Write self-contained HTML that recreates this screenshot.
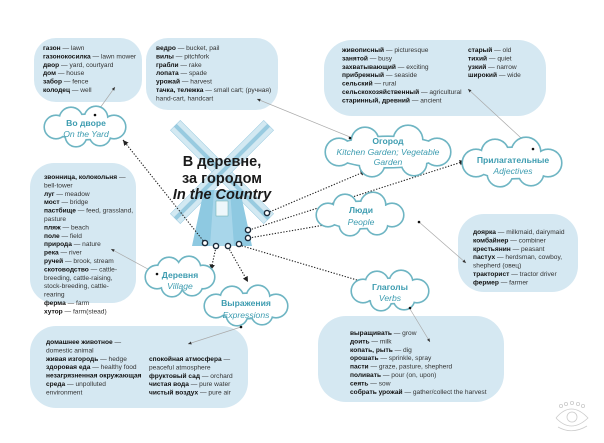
<!DOCTYPE html>
<html><head><meta charset="utf-8"><style>
html,body{margin:0;padding:0;background:#fff;}
svg{display:block;}
.t{font-family:"Liberation Sans",sans-serif;font-size:6.6px;fill:#333;}
.t tspan.b{font-weight:bold;fill:#111;}
.o{stroke:#6eb5c3;stroke-width:3.2;fill:#fff;}
.f{fill:#fff;stroke:none;}
.ct{font-family:"Liberation Sans",sans-serif;font-size:8.6px;fill:#3d9cb0;text-anchor:middle;}
.ci{font-style:italic;}
.dot{stroke:#222;stroke-width:1.1;stroke-dasharray:1.3 1.6;fill:none;}
.gl{stroke:#aaa;stroke-width:0.7;fill:none;}
.ring{fill:#fff;stroke:#1b2a3a;stroke-width:1.4;}
</style></head><body>
<svg width="604" height="443" viewBox="0 0 604 443" xmlns="http://www.w3.org/2000/svg">
<defs>
<marker id="ah" markerWidth="6" markerHeight="6" refX="5" refY="3" orient="auto"><path d="M0,0.5 L5,3 L0,5.5z" fill="#222"/></marker>
<marker id="ag" markerWidth="6" markerHeight="6" refX="5" refY="3" orient="auto"><path d="M0,0.8 L5,3 L0,5.2z" fill="#333"/></marker>
<g id="c1"><ellipse cx="85" cy="127" rx="32" ry="12"/><circle cx="71" cy="119" r="11"/><circle cx="96" cy="118" r="11"/><circle cx="76" cy="136" r="10"/><circle cx="100" cy="135" r="10"/><circle cx="56" cy="127" r="11"/><circle cx="114" cy="127" r="11"/></g>
<g id="c2"><ellipse cx="388" cy="152" rx="55" ry="15"/><circle cx="365" cy="141" r="13"/><circle cx="408" cy="140" r="14"/><circle cx="372" cy="164" r="12"/><circle cx="414" cy="163" r="12"/><circle cx="339" cy="152" r="13"/><circle cx="437" cy="152" r="13"/></g>
<g id="c3"><ellipse cx="512" cy="163" rx="40" ry="15"/><circle cx="495" cy="153" r="13"/><circle cx="526" cy="152" r="14"/><circle cx="500" cy="174" r="12"/><circle cx="531" cy="173" r="12"/><circle cx="476" cy="163" r="13"/><circle cx="548" cy="163" r="13"/></g>
<g id="c4"><ellipse cx="360" cy="215" rx="35" ry="13"/><circle cx="345" cy="206" r="11"/><circle cx="373" cy="205" r="12"/><circle cx="350" cy="225" r="10"/><circle cx="377" cy="224" r="10"/><circle cx="328" cy="215" r="11"/><circle cx="392" cy="215" r="11"/></g>
<g id="c5"><ellipse cx="390" cy="291" rx="30" ry="12"/><circle cx="377" cy="283" r="11"/><circle cx="401" cy="282" r="11"/><circle cx="381" cy="300" r="10"/><circle cx="404" cy="299" r="10"/><circle cx="363" cy="291" r="11"/><circle cx="417" cy="291" r="11"/></g>
<g id="c6"><ellipse cx="180" cy="277" rx="26" ry="12"/><circle cx="169" cy="269" r="11"/><circle cx="189" cy="268" r="11"/><circle cx="172" cy="286" r="10"/><circle cx="192" cy="285" r="10"/><circle cx="157" cy="277" r="11"/><circle cx="203" cy="277" r="11"/></g>
<g id="c7"><ellipse cx="246" cy="306" rx="33" ry="12"/><circle cx="232" cy="298" r="11"/><circle cx="258" cy="297" r="11"/><circle cx="237" cy="315" r="10"/><circle cx="262" cy="314" r="10"/><circle cx="216" cy="306" r="11"/><circle cx="276" cy="306" r="11"/></g>
</defs>

<!-- blobs -->
<g fill="#d5e8f2">
<rect x="34" y="38" width="108" height="64" rx="22"/>
<rect x="146" y="38" width="132" height="72" rx="22"/>
<rect x="324" y="40" width="222" height="76" rx="28"/>
<rect x="30" y="163" width="106" height="140" rx="24"/>
<rect x="458" y="214" width="120" height="78" rx="26"/>
<rect x="30" y="326" width="218" height="82" rx="26"/>
<rect x="318" y="316" width="186" height="86" rx="28"/>
</g>

<!-- windmill -->
<g transform="translate(222,172)">
<g transform="rotate(45)" stroke="#9ccbe0" stroke-width="0.5">
<rect x="-66" y="-7" width="132" height="14" fill="#d3e9f2"/>
<rect x="-66" y="-1.8" width="132" height="3.6" fill="#98cbe0"/>
<rect x="-7" y="-66" width="14" height="132" fill="#d3e9f2"/>
<rect x="-1.8" y="-66" width="3.6" height="132" fill="#98cbe0"/>
</g>
</g>
<path d="M204,190 L240,190 L252,246 L192,246 Z" fill="#8ec9e1"/>
<path d="M214,190 L230,190 L234,246 L210,246 Z" fill="#a8d6ea"/>
<rect x="216" y="201" width="12" height="15" fill="#eef7fb" stroke="#6aa" stroke-width="0.5"/>
<g font-family="Liberation Sans,sans-serif" font-size="14.5" font-weight="bold" fill="#1a1a1a" text-anchor="middle">
<text x="222" y="166">В деревне,</text><text x="222" y="183">за городом</text>
<text x="222" y="199" font-style="italic">In the Country</text></g>

<!-- dotted connectors -->
<path class="dot" marker-end="url(#ah)" d="M205,243 L123,140"/>
<path class="dot" marker-end="url(#ah)" d="M216,247 L211,270"/>
<path class="dot" marker-end="url(#ah)" d="M228,247 L248,282"/>
<path class="dot" marker-end="url(#ah)" d="M239,245 L367,283"/>
<path class="dot" marker-end="url(#ah)" d="M249,238 L342,222"/>
<path class="dot" marker-end="url(#ah)" d="M249,230 L465,161"/>
<path class="dot" marker-end="url(#ah)" d="M267,213 L366,171"/>

<!-- grey lines -->
<path class="gl" marker-end="url(#ag)" d="M95,115 L115,87"/>
<path class="gl" marker-end="url(#ag)" d="M350,137 L257,99"/>
<path class="gl" marker-end="url(#ag)" d="M533,149 L468,89"/>
<path class="gl" marker-end="url(#ag)" d="M419,222 L466,263"/>
<path class="gl" marker-end="url(#ag)" d="M410,309 L430,342"/>
<path class="gl" marker-end="url(#ag)" d="M241,327 L188,344"/>
<path class="gl" marker-end="url(#ag)" d="M157,274 L111,249"/>

<!-- clouds -->
<use href="#c1" class="o"/><use href="#c1" class="f"/>
<use href="#c2" class="o"/><use href="#c2" class="f"/>
<use href="#c3" class="o"/><use href="#c3" class="f"/>
<use href="#c4" class="o"/><use href="#c4" class="f"/>
<use href="#c5" class="o"/><use href="#c5" class="f"/>
<use href="#c6" class="o"/><use href="#c6" class="f"/>
<use href="#c7" class="o"/><use href="#c7" class="f"/>

<g fill="#111">
<circle cx="95" cy="115" r="1.3"/><circle cx="350" cy="138" r="1.3"/><circle cx="533" cy="149" r="1.3"/><circle cx="419" cy="222" r="1.3"/><circle cx="410" cy="308" r="1.3"/><circle cx="241" cy="327" r="1.3"/><circle cx="157" cy="274" r="1.3"/>
</g>

<text class="ct" x="86" y="126" font-weight="bold">Во дворе</text><text class="ct ci" x="86" y="137">On the Yard</text>
<text class="ct" x="388" y="144" font-weight="bold">Огород</text><text class="ct ci" x="388" y="155">Kitchen Garden; Vegetable</text><text class="ct ci" x="388" y="165">Garden</text>
<text class="ct" x="513" y="163" font-weight="bold">Прилагательные</text><text class="ct ci" x="513" y="174">Adjectives</text>
<text class="ct" x="361" y="213" font-weight="bold">Люди</text><text class="ct ci" x="361" y="225">People</text>
<text class="ct" x="390" y="290" font-weight="bold">Глаголы</text><text class="ct ci" x="390" y="301">Verbs</text>
<text class="ct" x="180" y="278" font-weight="bold">Деревня</text><text class="ct ci" x="180" y="289">Village</text>
<text class="ct" x="246" y="306" font-weight="bold">Выражения</text><text class="ct ci" x="246" y="318">Expressions</text>

<!-- rings -->
<g class="ring"><circle cx="267" cy="213" r="2.6"/><circle cx="248" cy="230" r="2.6"/><circle cx="248" cy="238" r="2.6"/><circle cx="205" cy="243" r="2.6"/><circle cx="216" cy="246" r="2.6"/><circle cx="228" cy="246" r="2.6"/><circle cx="239" cy="244" r="2.6"/></g>

<!-- texts -->
<text class="t" x="43" y="50"><tspan class="b">газон</tspan> — lawn<tspan x="43" dy="8.4" class="b">газонокосилка</tspan> — lawn mower<tspan x="43" dy="8.4" class="b">двор</tspan> — yard, courtyard<tspan x="43" dy="8.4" class="b">дом</tspan> — house<tspan x="43" dy="8.4" class="b">забор</tspan> — fence<tspan x="43" dy="8.4" class="b">колодец</tspan> — well</text>

<text class="t" x="156" y="50"><tspan class="b">ведро</tspan> — bucket, pail<tspan x="156" dy="8.4" class="b">вилы</tspan> — pitchfork<tspan x="156" dy="8.4" class="b">грабли</tspan> — rake<tspan x="156" dy="8.4" class="b">лопата</tspan> — spade<tspan x="156" dy="8.4" class="b">урожай</tspan> — harvest<tspan x="156" dy="8.4" class="b">тачка, тележка</tspan> — small cart; (ручная)<tspan x="156" dy="8.4">hand-cart, handcart</tspan></text>

<text class="t" x="342" y="52"><tspan class="b">живописный</tspan> — picturesque<tspan x="342" dy="8.4" class="b">занятой</tspan> — busy<tspan x="342" dy="8.4" class="b">захватывающий</tspan> — exciting<tspan x="342" dy="8.4" class="b">прибрежный</tspan> — seaside<tspan x="342" dy="8.4" class="b">сельский</tspan> — rural<tspan x="342" dy="8.4" class="b">сельскохозяйственный</tspan> — agricultural<tspan x="342" dy="8.4" class="b">старинный, древний</tspan> — ancient</text>
<text class="t" x="468" y="52"><tspan class="b">старый</tspan> — old<tspan x="468" dy="8.4" class="b">тихий</tspan> — quiet<tspan x="468" dy="8.4" class="b">узкий</tspan> — narrow<tspan x="468" dy="8.4" class="b">широкий</tspan> — wide</text>

<text class="t" x="44" y="179"><tspan class="b">звонница, колокольня</tspan> —<tspan x="44" dy="8.4">bell-tower</tspan><tspan x="44" dy="8.4" class="b">луг</tspan> — meadow<tspan x="44" dy="8.4" class="b">мост</tspan> — bridge<tspan x="44" dy="8.4" class="b">пастбище</tspan> — feed, grassland,<tspan x="44" dy="8.4">pasture</tspan><tspan x="44" dy="8.4" class="b">пляж</tspan> — beach<tspan x="44" dy="8.4" class="b">поле</tspan> — field<tspan x="44" dy="8.4" class="b">природа</tspan> — nature<tspan x="44" dy="8.4" class="b">река</tspan> — river<tspan x="44" dy="8.4" class="b">ручей</tspan> — brook, stream<tspan x="44" dy="8.4" class="b">скотоводство</tspan> — cattle-<tspan x="44" dy="8.4">breeding, cattle-raising,</tspan><tspan x="44" dy="8.4">stock-breeding, cattle-</tspan><tspan x="44" dy="8.4">rearing</tspan><tspan x="44" dy="8.4" class="b">ферма</tspan> — farm<tspan x="44" dy="8.4" class="b">хутор</tspan> — farm(stead)</text>

<text class="t" x="473" y="234"><tspan class="b">доярка</tspan> — milkmaid, dairymaid<tspan x="473" dy="8.4" class="b">комбайнер</tspan> — combiner<tspan x="473" dy="8.4" class="b">крестьянин</tspan> — peasant<tspan x="473" dy="8.4" class="b">пастух</tspan> — herdsman, cowboy,<tspan x="473" dy="8.4">shepherd (овец)</tspan><tspan x="473" dy="8.4" class="b">тракторист</tspan> — tractor driver<tspan x="473" dy="8.4" class="b">фермер</tspan> — farmer</text>

<text class="t" x="46" y="344"><tspan class="b">домашнее животное</tspan> —<tspan x="46" dy="8.4">domestic animal</tspan><tspan x="46" dy="8.4" class="b">живая изгородь</tspan> — hedge<tspan x="46" dy="8.4" class="b">здоровая еда</tspan> — healthy food<tspan x="46" dy="8.4" class="b">незагрязненная окружающая</tspan><tspan x="46" dy="8.4" class="b">среда</tspan> — unpolluted<tspan x="46" dy="8.4">environment</tspan></text>
<text class="t" x="149" y="361"><tspan class="b">спокойная атмосфера</tspan> —<tspan x="149" dy="8.4">peaceful atmosphere</tspan><tspan x="149" dy="8.4" class="b">фруктовый сад</tspan> — orchard<tspan x="149" dy="8.4" class="b">чистая вода</tspan> — pure water<tspan x="149" dy="8.4" class="b">чистый воздух</tspan> — pure air</text>

<text class="t" x="350" y="335"><tspan class="b">выращивать</tspan> — grow<tspan x="350" dy="8.4" class="b">доить</tspan> — milk<tspan x="350" dy="8.4" class="b">копать, рыть</tspan> — dig<tspan x="350" dy="8.4" class="b">орошать</tspan> — sprinkle, spray<tspan x="350" dy="8.4" class="b">пасти</tspan> — graze, pasture, shepherd<tspan x="350" dy="8.4" class="b">поливать</tspan> — pour (on, upon)<tspan x="350" dy="8.4" class="b">сеять</tspan> — sow<tspan x="350" dy="8.4" class="b">собрать урожай</tspan> — gather/collect the harvest</text>

<!-- eye logo -->
<g fill="none" stroke="#ccc" stroke-width="0.8">
<path d="M556,418 Q571,400 588,418 Q571,434 556,418"/>
<circle cx="572" cy="417" r="5"/>
<circle cx="561" cy="406" r="1.6"/><circle cx="566" cy="404" r="1.6"/><circle cx="572" cy="403" r="1.6"/><circle cx="578" cy="404" r="1.6"/><circle cx="583" cy="406" r="1.6"/>
<path d="M558,427 Q572,435 587,426"/>
</g>
</svg>
</body></html>
